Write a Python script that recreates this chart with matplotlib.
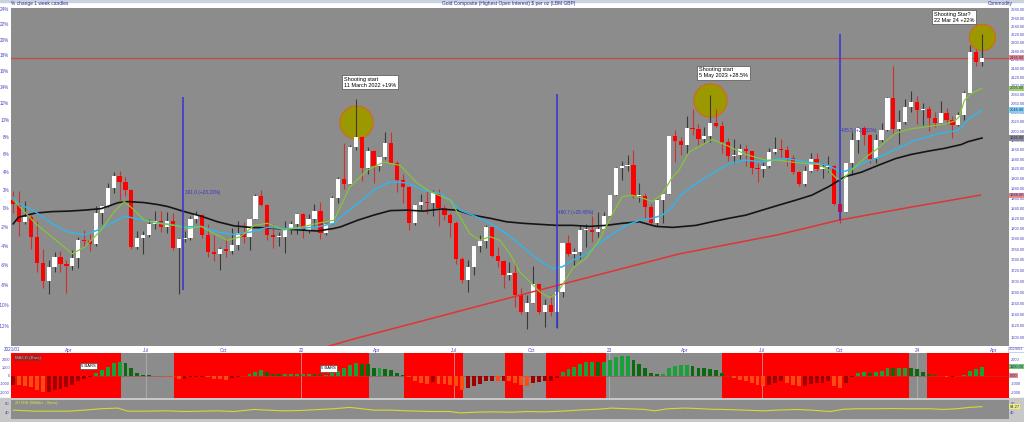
import numpy as np
import pandas as pd
import matplotlib
matplotlib.use("Agg")
import matplotlib.pyplot as plt
import matplotlib.dates as mdates
from matplotlib.ticker import NullLocator
from matplotlib.patches import Rectangle

plt.rcParams["font.family"] = ["Liberation Sans", "DejaVu Sans"]
NARROW = ["Liberation Sans Narrow", "Liberation Sans", "DejaVu Sans"]

# weekly candles, gold $ per oz
first_week = "2021-01-25"
opens = [1856, 1848, 1813, 1823, 1784, 1734, 1700, 1727, 1745, 1732,
         1728, 1744, 1777, 1775, 1769, 1831, 1844, 1881, 1905, 1892,
         1877, 1764, 1781, 1787, 1808, 1815, 1802, 1814, 1763, 1779,
         1781, 1818, 1827, 1788, 1754, 1750, 1761, 1757, 1768, 1792,
         1783, 1818, 1865, 1846, 1788, 1783, 1783, 1798, 1808, 1829,
         1797, 1818, 1835, 1791, 1808, 1860, 1898, 1889, 1966, 1988,
         1921, 1958, 1925, 1945, 1974, 1931, 1896, 1883, 1811, 1846,
         1853, 1850, 1871, 1840, 1827, 1811, 1742, 1703, 1727, 1766,
         1775, 1802, 1747, 1737, 1712, 1716, 1675, 1644, 1661, 1695,
         1644, 1657, 1645, 1681, 1771, 1751, 1755, 1797, 1797, 1793,
         1798, 1824, 1866, 1921, 1926, 1928, 1865, 1865, 1842, 1811,
         1856, 1868, 1989, 1978, 1969, 2007, 2004, 1983, 1990, 2017,
         2011, 1977, 1946, 1948, 1961, 1958, 1921, 1919, 1925, 1955,
         1962, 1959, 1943, 1913, 1889, 1915, 1940, 1919, 1924, 1925,
         1849, 1833, 1932, 1981, 2006, 1992, 1940, 1981, 2002, 2072,
         2004, 2019, 2053, 2063, 2045, 2049, 2029, 2018, 2039, 2024,
         2013, 2035, 2083, 2179, 2155]
highs = [1875, 1875, 1855, 1827, 1815, 1760, 1740, 1755, 1756, 1740,
         1758, 1784, 1797, 1790, 1845, 1846, 1890, 1913, 1916, 1903,
         1879, 1795, 1795, 1818, 1834, 1834, 1832, 1831, 1781, 1795,
         1824, 1834, 1828, 1809, 1788, 1764, 1782, 1800, 1814, 1813,
         1818, 1869, 1877, 1849, 1808, 1793, 1815, 1815, 1831, 1830,
         1829, 1848, 1853, 1810, 1865, 1902, 1974, 1970, 2070, 1989,
         1966, 1960, 1947, 1998, 1998, 1936, 1910, 1885, 1849, 1869,
         1874, 1876, 1879, 1847, 1830, 1814, 1745, 1739, 1767, 1788,
         1807, 1802, 1765, 1740, 1735, 1735, 1688, 1675, 1729, 1697,
         1668, 1675, 1682, 1772, 1787, 1763, 1804, 1808, 1825, 1833,
         1833, 1866, 1923, 1937, 1949, 1960, 1890, 1870, 1848, 1858,
         1870, 1990, 2003, 1988, 2032, 2048, 2015, 2009, 2079, 2048,
         2022, 1985, 1983, 1973, 1971, 1958, 1933, 1935, 1963, 1987,
         1982, 1968, 1949, 1915, 1925, 1953, 1953, 1932, 1947, 1927,
         1850, 1933, 1997, 2009, 2010, 1993, 1994, 2017, 2075, 2146,
         2047, 2071, 2088, 2078, 2062, 2055, 2042, 2065, 2050, 2032,
         2041, 2088, 2195, 2185, 2222]
lows = [1831, 1785, 1808, 1761, 1717, 1687, 1676, 1718, 1718, 1678,
        1721, 1724, 1764, 1756, 1766, 1808, 1843, 1870, 1856, 1865,
        1761, 1761, 1750, 1783, 1798, 1794, 1791, 1758, 1677, 1774,
        1778, 1810, 1782, 1745, 1737, 1721, 1746, 1750, 1759, 1772,
        1758, 1818, 1844, 1778, 1762, 1766, 1753, 1789, 1790, 1782,
        1792, 1805, 1780, 1788, 1808, 1850, 1878, 1888, 1960, 1895,
        1910, 1890, 1915, 1940, 1931, 1872, 1850, 1797, 1807, 1837,
        1828, 1825, 1805, 1816, 1784, 1732, 1697, 1681, 1711, 1754,
        1763, 1745, 1727, 1688, 1702, 1654, 1640, 1615, 1660, 1640,
        1618, 1638, 1616, 1672, 1747, 1730, 1741, 1765, 1774, 1784,
        1796, 1823, 1866, 1896, 1916, 1861, 1853, 1819, 1808, 1805,
        1810, 1868, 1934, 1949, 1950, 1992, 1969, 1975, 1977, 2008,
        1952, 1937, 1932, 1940, 1925, 1910, 1893, 1902, 1922, 1950,
        1942, 1925, 1910, 1885, 1884, 1913, 1915, 1901, 1913, 1846,
        1810, 1833, 1908, 1954, 1970, 1932, 1932, 1976, 2001, 1994,
        1973, 2016, 2041, 2016, 2013, 2001, 2009, 2017, 2015, 1984,
        2010, 2024, 2083, 2146, 2146]
closes = [1848, 1813, 1823, 1784, 1734, 1700, 1727, 1745, 1732, 1728,
          1744, 1777, 1775, 1769, 1831, 1844, 1881, 1905, 1892, 1877,
          1764, 1781, 1787, 1808, 1815, 1802, 1814, 1763, 1779, 1781,
          1818, 1827, 1788, 1754, 1750, 1761, 1757, 1768, 1792, 1783,
          1818, 1865, 1846, 1788, 1783, 1783, 1798, 1808, 1829, 1797,
          1818, 1835, 1791, 1808, 1860, 1898, 1889, 1966, 1988, 1921,
          1958, 1925, 1945, 1974, 1931, 1896, 1883, 1811, 1846, 1853,
          1850, 1871, 1840, 1827, 1811, 1742, 1703, 1727, 1766, 1775,
          1802, 1747, 1737, 1712, 1716, 1675, 1644, 1661, 1695, 1644,
          1657, 1645, 1681, 1771, 1751, 1755, 1797, 1797, 1793, 1798,
          1824, 1866, 1921, 1926, 1928, 1865, 1865, 1842, 1811, 1856,
          1868, 1989, 1978, 1969, 2007, 2004, 1983, 1990, 2017, 2011,
          1977, 1946, 1948, 1961, 1958, 1921, 1919, 1925, 1955, 1962,
          1959, 1943, 1913, 1889, 1915, 1940, 1919, 1924, 1925, 1849,
          1833, 1932, 1981, 2006, 1992, 1940, 1981, 2002, 2072, 2004,
          2019, 2053, 2063, 2045, 2049, 2029, 2018, 2039, 2024, 2013,
          2035, 2083, 2179, 2155, 2165]

# moving averages (week number, price)
green_wk = [0, 0.3, 3.7, 6.5, 9.3, 9.9, 12.1, 14.9, 17.1, 18.8, 20.5, 22.2, 24.5, 27.3, 29.6,
            31.8, 34, 36.3, 38.5, 40.8, 43, 45.8, 48.6, 51.5, 54.3, 55.4, 57, 59.9, 62.7,
            65.5, 68.4, 70.6, 74, 75.6, 77.3, 79, 80.7, 82.4, 84.1, 85.7, 87.4, 89.1, 90.8,
            91.9, 93, 94.7, 97, 99.2, 101.5, 103.1, 104.8, 106.5, 108.2, 109.9, 111.6, 112.7,
            114.4, 118.3, 121, 124, 127.4, 129.6, 131.8, 134.2, 136.4, 138, 139.2, 140.3,
            141.9, 144.2, 146.4, 147.6, 149.3, 152, 154.4, 157.7, 159.4, 160.2, 161, 162.1, 164]
green_ma = [1856, 1853, 1810, 1784, 1758, 1751, 1764, 1797, 1833, 1853, 1836, 1816, 1810, 1806, 1800,
            1804, 1790, 1777, 1784, 1806, 1810, 1797, 1802, 1810, 1816, 1843, 1883, 1917, 1934,
            1927, 1890, 1873, 1856, 1823, 1790, 1777, 1784, 1777, 1751, 1718, 1700, 1681, 1670,
            1676, 1694, 1724, 1743, 1777, 1830, 1863, 1866, 1860, 1853, 1869, 1903, 1917,
            1955, 1982, 1968, 1950, 1938, 1938, 1934, 1931, 1929, 1917, 1902, 1896,
            1917, 1943, 1963, 1977, 1995, 2005, 2009, 2015, 2022, 2032, 2067, 2082, 2095]
blue_wk = [0, 0.9, 3.7, 6.5, 9.3, 12.1, 14.4, 16.6, 18.8, 20.5, 23.4, 26.2, 29, 31.8, 34.6,
           37.4, 40.2, 43, 45.8, 48.6, 51.5, 54.3, 55.4, 58.3, 61, 63.8, 66.7, 69.4, 72.3,
           74, 75.6, 77.8, 80.7, 83.5, 86.3, 89.1, 91.3, 93, 94.7, 97, 99.2, 101.5, 103.8,
           106, 108.2, 109.9, 111.6, 112.7, 115.6, 118.3, 121.2, 124, 126.8, 129.6, 131.3,
           134.2, 136.4, 138, 139.8, 140.9, 142.6, 144.2, 146.4, 148.7, 151, 152, 155.4,
           157.7, 159.4, 160.5, 161.6, 164]
blue_ma = [1861, 1849, 1833, 1810, 1793, 1788, 1797, 1810, 1824, 1820, 1813, 1808, 1803, 1804, 1793,
           1788, 1793, 1802, 1800, 1800, 1803, 1810, 1822, 1849, 1876, 1893, 1891, 1876, 1869,
           1856, 1836, 1826, 1810, 1790, 1764, 1739, 1723, 1727, 1739, 1751, 1771, 1790, 1806,
           1816, 1820, 1826, 1843, 1863, 1890, 1910, 1931, 1938, 1934, 1941, 1941,
           1934, 1931, 1927, 1915, 1915, 1923, 1934, 1943, 1957, 1970, 1977, 1990,
           1997, 2000, 2007, 2025, 2046]
black_wk = [0, 0.9, 3.7, 6.5, 9.3, 12.1, 14.9, 17.8, 19.5, 22.2, 24.5, 26.2, 29, 31.8, 34.6,
            37.4, 40.2, 43, 45.8, 48.6, 51.5, 54.3, 55.4, 58.3, 61, 63.8, 66.7, 69.4, 72.3,
            75.1, 77.8, 80.7, 83.5, 86.3, 89.1, 92, 94.7, 97.6, 100.4, 103.1, 106, 108.8,
            111.6, 112.7, 115.6, 118.3, 121.2, 124, 126.8, 129.6, 132.5, 135.2, 138, 139.8,
            140.9, 143.6, 146.4, 149.3, 152, 154.9, 157.7, 160.5, 161.6, 164]
black_ma = [1809, 1822, 1830, 1833, 1834, 1836, 1839, 1851, 1853, 1851, 1847, 1843, 1833, 1824, 1813,
            1805, 1802, 1801, 1799, 1797, 1795, 1800, 1803, 1816, 1826, 1835, 1836, 1834, 1838,
            1836, 1826, 1820, 1813, 1810, 1808, 1806, 1806, 1804, 1806, 1810, 1813, 1804,
            1802, 1803, 1806, 1813, 1820, 1826, 1836, 1846, 1856, 1866, 1883, 1896,
            1904, 1913, 1927, 1941, 1950, 1957, 1963, 1971, 1977, 1985]
red_wk = [48.7, 57.6, 89.1, 112.7, 129.6, 139.7, 152, 163.7]
red_ma = [1571, 1597, 1684, 1751, 1788, 1816, 1842, 1866]

# MACD histogram (x100) and RSI
macd = [-1100, -1150, -1200, -1400, -1700, -2000, -2000, -1800, -1600, -1350,
        -1100, -700, -350, -150, 300, 700, 1100, 1500, 1650, 1500,
        900, 350, 80, 40, 20, -60, -100, -200, -400, -350,
        -150, -100, -100, -200, -400, -450, -480, -300, -150, -80,
        150, 500, 650, 450, 200, 150, 150, 200, 250, 250,
        250, 150, 50, 100, 350, 600, 950, 1300, 1600, 1450,
        1400, 1000, 1000, 850, 700, 300, 100, -200, -600, -900,
        -1000, -800, -1000, -1050, -1100, -1300, -1800, -1500, -1300, -1000,
        -700, -600, -700, -600, -700, -900, -1150, -1200, -900, -800,
        -700, -600, -300, 400, 800, 1100, 1400, 1650, 1700, 1650,
        1700, 1900, 2300, 2400, 2400, 1950, 1450, 1000, 350, 200,
        250, 1000, 1200, 1250, 1300, 1200, 1000, 900, 800, 700,
        350, -50, -300, -500, -700, -900, -1100, -1200, -1100, -900,
        -700, -900, -1100, -1300, -1200, -1000, -900, -900, -700, -1200,
        -1500, -900, -200, 300, 500, 350, 450, 600, 1000, 900,
        900, 1000, 950, 800, 500, 250, 100, -50, -100, -100,
        -50, 100, 600, 800, 1100]
rsi_wk = [0, 3.7, 9.3, 12, 14.9, 17.7, 19.4, 22, 26, 29, 31.8, 34.6, 37.4, 40.8, 43, 45.8,
          48.6, 52, 54.2, 57, 58.7, 61, 63.8, 66.6, 71, 73.9, 75.6, 78.4, 81.2, 84.4, 87.2,
          90, 92.8, 95.6, 99, 101.3, 104.1, 106.9, 108.6, 110.8, 113.6, 115.9, 118.1, 120.4,
          123.7, 127.1, 129.3, 132.7, 135, 138.3, 140.6, 142.8, 146.2, 148.4, 151.8, 155.2,
          157.4, 159.7, 161.9, 164]
rsi = [49, 44.5, 44.5, 49, 55, 58, 44.5, 44.5, 46, 43, 44.5, 46, 43, 52, 49, 46,
       47.5, 52, 55, 61, 56, 49, 49, 46, 43, 43, 37, 40, 41.5, 40, 43,
       41.5, 44.5, 49, 53, 58, 55, 52, 46, 55, 58, 56, 53, 52,
       49, 46, 49, 52, 49, 43, 53, 55, 55, 56, 55, 55,
       52, 55, 61, 64.27]

red_spans = [("2021-01-20", "2021-06-02"), ("2021-08-04", "2022-03-22"),
             ("2022-05-03", "2022-07-12"), ("2022-08-31", "2022-09-21"),
             ("2022-10-18", "2022-12-28"), ("2023-05-15", "2023-12-23"),
             ("2024-01-13", "2024-04-25")]

measures = [(28.8, 1684, 2075, "391.0 (+23.22%)", 1872),
            (92, 1616, 2082, "460.7 (+28.45%)", 1832),
            (140, 1816, 2222, "405.5 (+22.32%)", 2002)]
notes = [(58, 2019, "Shooting start\n11 March 2022 +19%"),
         (118, 2068, "Shooting start\n5 May 2023 +28.5%"),
         (164, 2214, "Shooting Star?\n22 Mar 24 +22%")]

base = 1840.0
pct_ticks = np.arange(-12, 25, 2)
price_ticks = np.arange(1600, 2281, 20)

t0 = pd.Timestamp(first_week)
weeks = pd.date_range(t0, periods=len(closes), freq="7D")
x = mdates.date2num(weeks)
day0 = mdates.date2num(t0)
def wk(w):
    return day0 + np.asarray(w, dtype=float) * 7.0

xlo = mdates.date2num(pd.Timestamp("2021-01-22"))
xhi = mdates.date2num(pd.Timestamp("2024-04-19"))

BG = "#8c8c8c"
LBL = "#4646c0"
W, H = 1024, 422
fig = plt.figure(figsize=(W / 100, H / 100), dpi=100)
fig.patch.set_facecolor("white")

def box(l, t, r, b):
    return [l / W, 1 - b / H, (r - l) / W, (b - t) / H]

fig.patches.append(Rectangle((0, 0), 1, 1 - 398 / H, transform=fig.transFigure,
                             color="#c8c8c8", zorder=-5))
fig.patches.append(Rectangle((0, 1 - 2 / H), 1, 2 / H, transform=fig.transFigure,
                             color="#c9d3e0", zorder=-5))

ax = fig.add_axes(box(10.7, 7.5, 1009, 346))
ax.set_facecolor(BG)
ax.set_yscale("log")
ax.set_xlim(xlo, xhi)
ax.set_ylim(1585, 2286)

up = np.array(closes) >= np.array(opens)
body_lo = np.minimum(opens, closes)
body_h = np.maximum(np.abs(np.array(closes) - np.array(opens)), 1.5)
wick_col = np.where(up, "#3a3a3a", "#d03030")
ax.vlines(x, lows, highs, colors=wick_col, lw=0.8, zorder=3)
ax.bar(x, body_h, bottom=body_lo, width=5.0, color=np.where(up, "white", "#ff0000"),
       lw=0, zorder=4)

ax.plot(wk(red_wk), red_ma, color="#e03434", lw=1.1, zorder=5)
ax.plot(wk(black_wk), black_ma, color="#151515", lw=1.2, zorder=5)
ax.plot(wk(blue_wk), blue_ma, color="#35b4e6", lw=1.1, zorder=5)
ax.plot(wk(green_wk), green_ma, color="#86c43c", lw=0.9, zorder=5)
ax.axhline(closes[-1], color="#c44848", lw=0.9, zorder=2)

for w, lo, hi, txt, ty in measures:
    ax.vlines(wk(w), lo, hi, colors="#3434d8", lw=1.1, zorder=6)
    ax.text(wk(w) + 1.5, ty, txt, fontsize=3.4, color="#3434c8", va="center", zorder=7)

for w, py, txt in notes:
    ax.plot(wk(w), py, "o", ms=24 if w < 160 else 19, mfc="#9c9800", mec="#e0601c",
            mew=0.7, zorder=2.5)

ax.text(0.334, 0.796, notes[0][2], transform=ax.transAxes, fontsize=4, va="top",
        linespacing=1.25, bbox=dict(fc="white", ec="#333333", lw=0.4, pad=1.2), zorder=8)
ax.text(0.6895, 0.823, notes[1][2], transform=ax.transAxes, fontsize=4, va="top",
        linespacing=1.25, bbox=dict(fc="white", ec="#333333", lw=0.4, pad=1.2), zorder=8)
ax.text(0.925, 0.988, notes[2][2], transform=ax.transAxes, fontsize=4, va="top",
        linespacing=1.25, bbox=dict(fc="white", ec="#333333", lw=0.4, pad=1.2), zorder=8)

ax.yaxis.set_minor_locator(NullLocator())
ax.set_yticks(base * (1 + pct_ticks / 100.0))
ax.set_yticklabels([f"{p}%" for p in pct_ticks])
ax.tick_params(axis="y", length=0, pad=1, labelsize=3.3, labelcolor=LBL)

qdates = pd.date_range("2021-04-01", "2024-04-01", freq="QS")
qlabels = [d.strftime("%y") if d.month == 1 else d.strftime("%b") for d in qdates]
ax.set_xticks(mdates.date2num(qdates))
ax.set_xticklabels(qlabels)
ax.tick_params(axis="x", length=0, pad=1.2, labelsize=3.3, labelcolor=LBL)
for s in ax.spines.values():
    s.set_visible(False)

ax2 = ax.twinx()
ax2.set_yscale("log")
ax2.set_ylim(ax.get_ylim())
ax2.yaxis.set_minor_locator(NullLocator())
ax2.set_yticks(price_ticks)
ax2.set_yticklabels([f"{p:.2f}" for p in price_ticks], family=NARROW)
ax2.tick_params(axis="y", length=0, pad=1, labelsize=2.9, labelcolor=LBL)
for s in ax2.spines.values():
    s.set_visible(False)
for val, fc in [(closes[-1], "#e88a8a"), (green_ma[-1], "#9fd36a"), (blue_ma[-1], "#7fd3f0"),
                (black_ma[-1], "#8a8a8a"), (red_ma[-1], "#e88a8a")]:
    ax2.text(1.0008, val, f"{val:.2f}", transform=ax2.get_yaxis_transform(), fontsize=2.9,
             family=NARROW, va="center", ha="left", color="#2a2a80",
             bbox=dict(fc=fc, ec="none", pad=0.4))

fig.text(11 / W, 1 - 4 / H, "% change 1 week candles", fontsize=3.5, color="#2a2a90", va="center")
fig.text(509 / W, 1 - 4 / H, "Gold Composite (Highest Open Interest) $ per oz (LBM GBP)",
         fontsize=3.5, color="#2a2a90", va="center", ha="center")
fig.text(1000 / W, 1 - 4 / H, "Commodity", fontsize=3.5, color="#2a2a90", va="center", ha="center")
fig.text(4 / W, 1 - 349.5 / H, "2021/01", fontsize=3.3, color=LBL, va="center")
fig.text(1016 / W, 1 - 349.5 / H, "2024/03", fontsize=2.9, family=NARROW, color=LBL,
         va="center", ha="center", bbox=dict(fc="white", ec="#9ab0d8", lw=0.4, pad=0.4))

# MACD panel
mx = fig.add_axes(box(10.7, 353, 1009, 398))
mx.set_facecolor(BG)
for a, b in red_spans:
    mx.axvspan(mdates.date2num(pd.Timestamp(a)), mdates.date2num(pd.Timestamp(b)),
               color="#ff0000", lw=0, zorder=0)
for d in pd.date_range("2021-07-01", "2024-01-01", freq="6MS"):
    mx.axvline(mdates.date2num(d), color="#b8b8b8", lw=0.6, alpha=0.8, zorder=1)
mv = np.array(macd, dtype=float)
prev = np.concatenate([[mv[0] - 1], mv[:-1]])
rising = mv >= prev
cols = np.where(mv >= 0, np.where(rising, "#18a03a", "#0b6a10"),
                np.where(rising, "#a00000", "#ff4a10"))
mx.bar(x, mv, width=4.6, color=cols, lw=0, zorder=3)
mx.axhline(0, color="#a04040", lw=0.5, alpha=0.7, zorder=2)
mx.set_xlim(xlo, xhi)
mx.set_ylim(-2720, 2770)
mx.set_xticks([])
mx.set_yticks([2000, 1000, 0, -1000, -2000])
mx.set_yticklabels(["2000", "1000", "0", "-1000", "-2000"], family=NARROW)
mx.tick_params(axis="y", length=0, pad=0.6, labelsize=2.8, labelcolor=LBL)
for s in mx.spines.values():
    s.set_visible(False)
mx.text(0.004, 0.93, "MACD (Bars)", transform=mx.transAxes, fontsize=3.2, color="#b0b0b0",
        va="top", bbox=dict(fc="#a02020", ec="none", pad=0.6))
for fx, fy in [(0.078, 0.711), (0.318, 0.656)]:
    mx.text(fx, fy, "5 BARS", transform=mx.transAxes, fontsize=3, ha="center", va="center",
            bbox=dict(fc="white", ec="#333333", lw=0.4, pad=0.8), zorder=6)
mx2 = mx.twinx()
mx2.set_ylim(mx.get_ylim())
mx2.set_yticks([2000, -1000, -2000])
mx2.set_yticklabels(["2000", "-1000", "-2000"], family=NARROW)
mx2.tick_params(axis="y", length=0, pad=1, labelsize=2.9, labelcolor=LBL)
for s in mx2.spines.values():
    s.set_visible(False)
mx2.text(1.0008, macd[-1], f"{macd[-1]:.2f}", transform=mx2.get_yaxis_transform(), fontsize=2.9,
         family=NARROW, va="center", color="#2a2a80", bbox=dict(fc="#6fc86f", ec="none", pad=0.4))
mx2.text(1.0008, 0, "0.00", transform=mx2.get_yaxis_transform(), fontsize=2.9, family=NARROW,
         va="center", color="#2a2a80", bbox=dict(fc="#e88a8a", ec="none", pad=0.4))

# RSI panel
rx = fig.add_axes(box(10.7, 400, 1009, 419.3))
rx.set_facecolor(BG)
rx.plot(wk(rsi_wk), rsi, color="#d8d830", lw=0.8)
rx.set_xlim(xlo, xhi)
rx.set_ylim(8.9, 93.3)
rx.set_xticks([])
rx.set_yticks([80, 40])
rx.tick_params(axis="y", length=0, pad=1, labelsize=3.0, labelcolor=LBL)
for s in rx.spines.values():
    s.set_visible(False)
rx.text(0.004, 0.93, "20 RSI (Wilder - Bars)", transform=rx.transAxes, fontsize=3.2,
        color="#e0e040", va="top")
rx2 = rx.twinx()
rx2.set_ylim(rx.get_ylim())
rx2.set_yticks([80, 40])
rx2.tick_params(axis="y", length=0, pad=1, labelsize=2.9, labelcolor=LBL)
for s in rx2.spines.values():
    s.set_visible(False)
rx2.text(1.0008, rsi[-1], f"{rsi[-1]:.2f}", transform=rx2.get_yaxis_transform(), fontsize=2.9,
         family=NARROW, va="center", color="#2a2a80", bbox=dict(fc="#f0f070", ec="none", pad=0.4))

fig.savefig("out.png", dpi=100, facecolor=fig.get_facecolor())
